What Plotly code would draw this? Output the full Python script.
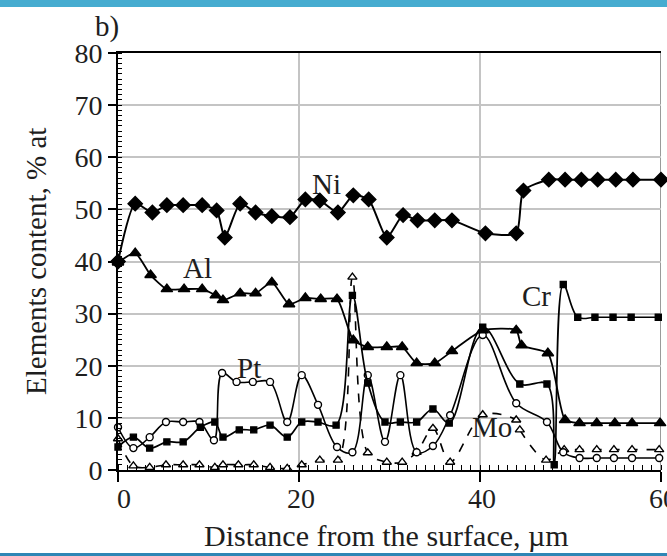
import plotly.graph_objects as go

# ---------------- data ----------------
ni_x = [0, 1.9, 3.8, 5.4, 7.2, 9.3, 10.9, 11.8, 13.5, 15.2, 17.0, 19.0, 20.7, 22.3, 24.3, 26.0,
        27.7, 29.7, 31.5, 33.1, 35.0, 36.9, 40.6, 44.0, 44.8, 47.6, 49.4, 51.2, 53.0, 55.0, 56.9, 60.0]
ni_y = [40, 51.1, 49.4, 50.8, 50.8, 50.8, 49.8, 44.6, 51.1, 49.4, 48.7, 48.5, 51.9, 51.7, 49.4, 52.7,
        51.9, 44.6, 48.9, 47.9, 47.9, 47.9, 45.4, 45.4, 53.6, 55.7, 55.7, 55.7, 55.7, 55.7, 55.7, 55.7]

al_x = [0, 1.9, 3.6, 5.4, 7.3, 9.3, 10.8, 11.6, 13.5, 15.2, 17.0, 18.9, 20.7, 22.4, 24.2, 26.0,
        27.6, 29.7, 31.4, 33.0, 35.0, 36.9, 40.3, 44.0, 44.6, 47.5, 49.4, 51.0, 52.9, 54.9, 56.8, 59.9]
al_y = [39.8, 41.6, 37.4, 34.7, 34.7, 34.7, 33.5, 32.6, 33.9, 33.9, 36.0, 31.8, 33.0, 32.8, 32.8, 24.9,
        23.6, 23.6, 23.6, 20.5, 20.5, 22.8, 26.8, 26.8, 23.9, 22.4, 9.6, 9.0, 9.0, 9.0, 9.0, 9.0]

cr_x = [0, 1.7, 3.5, 5.4, 7.2, 9.1, 10.7, 11.6, 13.4, 15.0, 16.8, 18.7, 20.3, 22.1, 24.1, 25.9,
        27.6, 29.5, 31.2, 33.0, 34.8, 36.6, 40.3, 44.4, 47.4, 48.2, 49.2, 50.8, 52.7, 54.7, 56.7, 59.7]
cr_y = [4.4, 6.3, 4.2, 5.4, 5.4, 8.2, 9.2, 6.3, 7.7, 7.7, 8.6, 6.3, 9.2, 9.2, 8.6, 33.5,
        16.7, 9.2, 9.2, 9.2, 11.7, 9.0, 27.4, 16.5, 16.5, 1.0, 35.6, 29.3, 29.3, 29.3, 29.3, 29.3]

pt_x = [0, 1.7, 3.5, 5.3, 7.2, 9.0, 10.6, 11.5, 13.1, 14.9, 16.8, 18.7, 20.3, 22.1, 24.2, 25.9,
        27.6, 29.5, 31.2, 33.0, 34.8, 36.7, 40.3, 44.0, 47.4, 49.2, 51.0, 52.9, 54.8, 56.8, 59.8]
pt_y = [8.2, 4.2, 6.3, 9.2, 9.2, 9.2, 5.7, 18.6, 16.9, 16.9, 16.9, 9.2, 18.2, 12.5, 4.4, 3.4,
        18.2, 5.4, 18.2, 3.4, 4.6, 10.5, 25.9, 12.8, 9.2, 3.4, 2.3, 2.3, 2.3, 2.3, 2.3]

mo_x = [0, 1.7, 3.5, 5.3, 7.2, 9.0, 10.7, 11.6, 13.3, 15.0, 16.8, 18.7, 20.3, 22.3, 24.3, 25.9,
        27.6, 29.7, 31.4, 33.0, 34.8, 36.7, 40.3, 44.0, 44.4, 47.3, 49.3, 51.0, 52.9, 54.8, 56.8, 59.8]
mo_y = [6.0, 0.8, 0.5, 1.0, 1.0, 1.0, 0.5, 1.0, 1.0, 1.0, 0.5, 0.3, 1.0, 1.9, 1.9, 37.0,
        3.3, 1.5, 1.5, 3.4, 8.0, 1.5, 10.6, 9.6, 7.7, 1.9, 3.9, 3.9, 3.9, 3.9, 3.9, 3.9]

labels = ["Ni", "Al", "Pt", "Cr", "Mo"]
label_x = [23.0, 8.8, 14.5, 46.2, 41.3]
label_y = [54.8, 38.8, 19.6, 33.3, 8.3]

x_ticks = [0, 20, 40, 60]
y_ticks = [0, 10, 20, 30, 40, 50, 60, 70, 80]

# ---------------- layout geometry ----------------
W, H = 667, 556
L, R, T, B = 118, 661, 53, 470
PW, PH = R - L, B - T

def px(xp):
    return (xp - L) / PW

def py(yp):
    return (B - yp) / PH

FONT = "Liberation Serif"
TXT = "#1e1e1e"

fig = go.Figure()

def add(x, y, symbol, size, open_=False, dash="solid", smooth=0.8, lw=1.8):
    fig.add_trace(go.Scatter(
        x=x, y=y, mode="lines+markers",
        line=dict(color="black", width=lw, dash=dash, shape="spline", smoothing=smooth),
        marker=dict(symbol=symbol, size=size,
                    color="white" if open_ else "black",
                    line=dict(color="black", width=1.4)),
        cliponaxis=False, showlegend=False, hoverinfo="skip"))

add(mo_x, mo_y, "triangle-up", 8, open_=True, dash="dash", smooth=0.9, lw=1.6)
add(pt_x, pt_y, "circle", 7, open_=True, smooth=1.0, lw=1.6)
add(cr_x, cr_y, "square", 6, smooth=1.0, lw=1.7)
add(al_x, al_y, "triangle-up", 10, smooth=0.6, lw=1.8)
add(ni_x, ni_y, "diamond", 11, smooth=0.6, lw=2.0)

def note(x, y, text, size=29, xref="x", yref="y", **kw):
    fig.add_annotation(x=x, y=y, xref=xref, yref=yref, text=text, showarrow=False,
                       xanchor="center", yanchor="middle",
                       font=dict(family=FONT, size=size, color=TXT), **kw)

for t, lx, ly in zip(labels, label_x, label_y):
    note(lx, ly, t)

# x tick labels as text (the last one is cut by the picture's right edge)
for i, v in enumerate(x_ticks):
    note(v, py(498), str(v), size=28, yref="paper", xshift=6 if i == 0 else 2)

# panel letter and axis titles
note(px(107), py(27), "b)", xref="paper", yref="paper")
note(px(36), py(262), "Elements content, % at", xref="paper", yref="paper", textangle=-90)
note(px(386), py(535), "Distance from the surface, µm", size=30, xref="paper", yref="paper")

# right border (gray) and blue frame bars
fig.add_shape(type="line", xref="x", yref="paper", x0=60, x1=60, y0=0, y1=1,
              line=dict(color="#9a9a9a", width=2), layer="below")
fig.add_shape(type="rect", xref="paper", yref="paper", x0=px(0), x1=px(W),
              y0=py(0), y1=py(7), fillcolor="#46acd0", line=dict(width=0))
fig.add_shape(type="rect", xref="paper", yref="paper", x0=px(0), x1=px(W),
              y0=py(553), y1=py(556), fillcolor="#2f86b5", line=dict(width=0))

fig.update_layout(
    width=W, height=H,
    margin=dict(l=L, r=W - R, t=T, b=H - B, pad=0, autoexpand=False),
    paper_bgcolor="white", plot_bgcolor="white",
    font=dict(family=FONT, size=28, color=TXT),
    hovermode=False,
    xaxis=dict(range=[0, 60], tickvals=x_ticks, showticklabels=False,
               automargin=False,
               showgrid=True, gridcolor="#c4c4c4", gridwidth=1.5,
               showline=True, linecolor="black", linewidth=1.6, mirror=True,
               ticks="outside", ticklen=10, tickwidth=1.6, tickcolor="black",
               minor=dict(dtick=1, tick0=0, ticks="inside", ticklen=5, tickwidth=1,
                          tickcolor="black", showgrid=False),
               zeroline=False),
    yaxis=dict(range=[0, 80], tickvals=y_ticks, ticktext=[str(v) for v in y_ticks],
               automargin=False,
               showgrid=True, gridcolor="#c4c4c4", gridwidth=1.5,
               showline=True, linecolor="black", linewidth=1.6,
               ticks="outside", ticklen=8, tickwidth=1.6, tickcolor="black",
               minor=dict(dtick=1, tick0=0, ticks="inside", ticklen=4, tickwidth=1,
                          tickcolor="black", showgrid=False),
               zeroline=False, tickfont=dict(family=FONT, size=28, color=TXT)),
)

fig.write_html("out.html", config={"displayModeBar": False},
               post_script="document.body.style.margin='0px';")
